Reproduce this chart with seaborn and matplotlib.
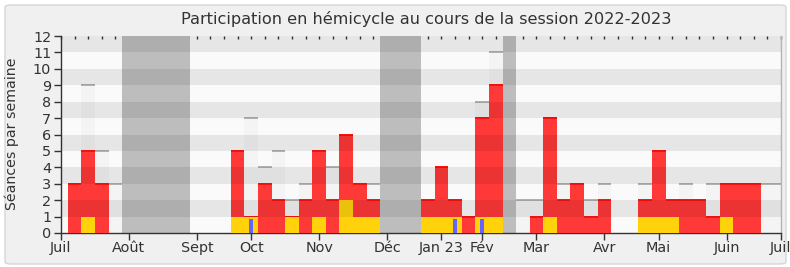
import matplotlib
matplotlib.use("Agg")
import matplotlib.pyplot as plt
import seaborn as sns
import numpy as np
import pandas as pd
from matplotlib.patches import FancyBboxPatch
from matplotlib.ticker import FixedLocator

# ---------------- data ----------------
weeks = list(range(1, 54))
presence = [3, 5, 3, 0, 0, 0, 0, 0, 0, 0, 0, 0,
            5, 1, 3, 2, 1, 2, 5, 2, 6, 3, 2,
            0, 0, 0,
            2, 4, 2, 1, 7, 9,
            0,
            0, 1, 7, 2, 3, 1, 2, 0, 0, 2, 5, 2, 2, 2, 1, 3, 3, 3, 0, 0]
interventions = [0, 1, 0, 0, 0, 0, 0, 0, 0, 0, 0, 0,
                 1, 1, 0, 0, 1, 0, 1, 0, 2, 1, 1,
                 0, 0, 0,
                 1, 1, 1, 0, 1, 1,
                 0,
                 0, 0, 1, 0, 0, 0, 0, 0, 0, 1, 1, 1, 0, 0, 0, 1, 0, 0, 0, 0]
questions = [0] * 13 + [1] + [0] * 14 + [1] + [0] + [1] + [0] * 22
seances = [3, 9, 5, 3, 0, 0, 0, 0, 0, 0, 0, 0,
           5, 7, 4, 5, 2, 3, 5, 4, 6, 3, 3,
           0, 0, 0,
           2, 4, 2, 1, 8, 11,
           0,
           2, 2, 7, 3, 3, 2, 3, 0, 0, 3, 5, 2, 3, 2, 3, 3, 3, 3, 3, 3]
vacation_weeks = [5, 6, 7, 8, 9, 24, 25, 26, 33]
month_ticks = [0, 5, 10, 14, 19, 24, 28, 31, 35, 40, 44, 49, 53]
month_labels = ["Juil", "Août", "Sept", "Oct", "Nov", "Déc", "Jan 23", "Fév",
                "Mar", "Avr", "Mai", "Juin", "Juil"]
title = "Participation en hémicycle au cours de la session 2022-2023"
ylabel = "Séances par semaine"

YMAX = 12
NWEEKS = 53
Q_SCALE = 0.85  # blue bars are drawn slightly shorter

# ---------------- style ----------------
sns.set_theme(style="white")
plt.rcParams["font.family"] = ["DejaVu Sans"]
TXT = "#333333"

df = pd.DataFrame({
    "week": weeks,
    "presence": presence,
    "interventions": interventions,
    "questions": [q * Q_SCALE for q in questions],
    "seances": seances,
    "vacances": [YMAX if w in vacation_weeks else 0 for w in weeks],
})

# ---------------- figure ----------------
fig = plt.figure(figsize=(7.9, 2.67), dpi=100)
fig.patch.set_facecolor("white")
frame = FancyBboxPatch((5 / 790, 3 / 267), 781 / 790, 259 / 267,
                       boxstyle="round,pad=0,rounding_size=0.008",
                       transform=fig.transFigure, facecolor="#f0f0f0",
                       edgecolor="#d6d6d6", lw=1.0, zorder=-10)
fig.patches.append(frame)

ax = fig.add_axes([61 / 790, 1 - 233 / 267, 720 / 790, 197 / 267])
ax.set_zorder(1)
ax.set_facecolor("#fafafa")

common = dict(data=df, x="week", native_scale=True, saturation=1,
              errorbar=None, linewidth=0, ax=ax)
sns.barplot(y="seances", width=1, color="#f4f4f4", zorder=1, **common)
sns.barplot(y="vacances", width=1, color="#bdbdbd", zorder=2, **common)
s = df[df.seances > 0]
ax.hlines(s.seances, s.week - 0.5, s.week + 0.5, color="#a9a9a9", lw=1.3, zorder=3)
sns.barplot(y="presence", width=1, color="#ff3838", zorder=4, **common)
p = df[df.presence > 0]
ax.hlines(p.presence, p.week - 0.5, p.week + 0.5, color="#ff0d0d", lw=1.4, zorder=5)
sns.barplot(y="interventions", width=1, color="#ffd20c", zorder=6, **common)
sns.barplot(y="questions", width=0.3, color="#6464ff", zorder=7, **common)

for b in range(1, YMAX, 2):
    ax.axhspan(b, b + 1, color="black", alpha=0.08, lw=0, zorder=8)

ax.set_xlim(0, NWEEKS)
ax.set_ylim(0, YMAX)
ax.set_xlabel("")
ax.set_ylabel("")

ax.xaxis.set_major_locator(FixedLocator(month_ticks))
ax.set_xticklabels(month_labels)
ax.xaxis.set_minor_locator(FixedLocator(list(range(0, NWEEKS + 1))))
ax.set_yticks(list(range(0, YMAX + 1)))
ax.tick_params(axis="both", which="both", direction="out", length=5, width=1,
               color=TXT, labelcolor=TXT, labelsize=10.4, pad=1)
ax.tick_params(axis="y", left=True, pad=2)
ax.tick_params(axis="x", bottom=True)

for side in ["left", "bottom"]:
    ax.spines[side].set_color(TXT)
    ax.spines[side].set_linewidth(1)
ax.spines["top"].set_visible(False)
ax.spines["right"].set_color("#b4b4b4")
ax.spines["right"].set_linewidth(1)

sec = ax.secondary_xaxis("top")
sec.set_xticks(list(range(0, NWEEKS + 1)))
sec.set_xticklabels([])
sec.tick_params(direction="in", length=2, width=1, color=TXT)
sec.spines["top"].set_visible(False)

fig.text(426 / 790, 1 - 19 / 267, title, ha="center", va="center",
         color=TXT, fontsize=11.6)
fig.text(12 / 790, 1 - 134 / 267, ylabel, ha="center", va="center",
         rotation=90, color=TXT, fontsize=10.2)

fig.savefig("out.png", dpi=100, facecolor=fig.get_facecolor())
